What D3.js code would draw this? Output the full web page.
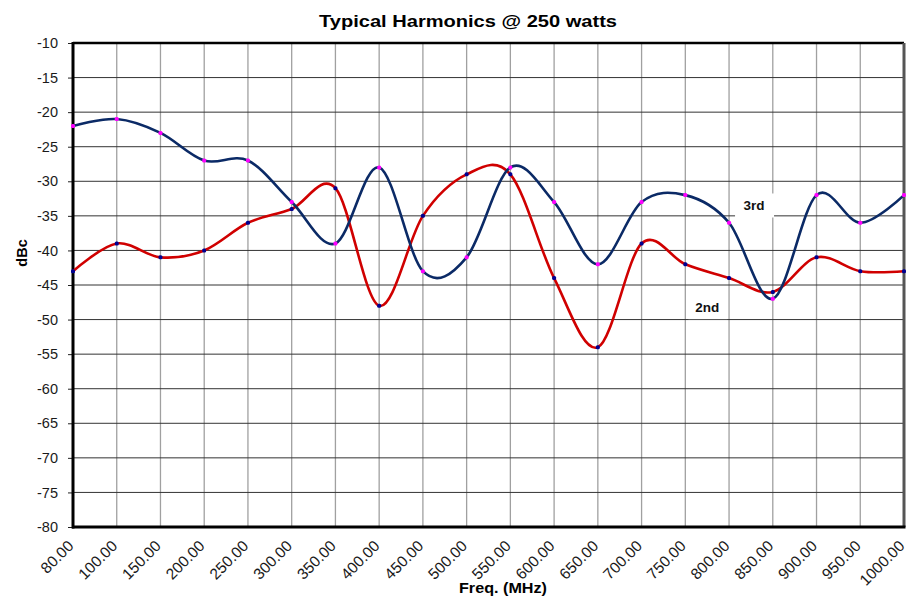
<!DOCTYPE html>
<html>
<head>
<meta charset="utf-8">
<script src="https://cdn.jsdelivr.net/npm/d3@7"></script>
<style>
  body { margin: 0; background: #fff; }
  text { font-family: "Liberation Sans", Arial, sans-serif; }
</style>
</head>
<body>
<div id="chart"></div>
<script>
// data
var freqs = ['80.00','100.00','150.00','200.00','250.00','300.00','350.00','400.00','450.00','500.00',
             '550.00','600.00','650.00','700.00','750.00','800.00','850.00','900.00','950.00','1000.00']
var third  = [-22,-21,-23,-27,-27,-33,-39,-28,-43,-41,-28,-33,-42,-33,-32,-36,-47,-32,-36,-32]
var second = [-43,-39,-41,-40,-36,-34,-31,-48,-35,-29,-29,-44,-54,-39,-42,-44,-46,-41,-43,-43]
var yTicks = d3.range(-80, -5, 5)

var W = 908, H = 597
var margin = {top: 43, right: 4, bottom: 70, left: 73}
var width  = W - margin.left - margin.right,
    height = H - margin.top - margin.bottom

var svg = d3.select('#chart')
            .append('svg')
            .attr('width', W)
            .attr('height', H)

var g = svg.append('g')
           .attr('transform', 'translate(' + margin.left + ',' + margin.top + ')')

var x = d3.scalePoint()
          .domain(freqs)
          .range([0, width])

var y = d3.scaleLinear()
          .domain([-80, -10])
          .range([height, 0])

//vertical grid
g.append('g')
 .selectAll('line')
 .data(freqs.slice(1))
 .enter().append('line')
 .attr('x1', function(d){ return x(d) })
 .attr('x2', function(d){ return x(d) })
 .attr('y1', 0)
 .attr('y2', height)
 .style('stroke', '#a0a0a0')
 .style('stroke-width', 1.3)

//horizontal grid
g.append('g')
 .selectAll('line')
 .data(yTicks.filter(function(d){ return d > -80 && d < -10 }))
 .enter().append('line')
 .attr('x1', 0)
 .attr('x2', width)
 .attr('y1', function(d){ return y(d) })
 .attr('y2', function(d){ return y(d) })
 .style('stroke', '#333')
 .style('stroke-width', 1)

//y axis (plain hyphen minus like the original)
var yAxis = g.append('g')
             .call(d3.axisLeft(y).tickValues(yTicks).tickSize(5).tickPadding(10)
                     .tickFormat(function(d){ return String(d) }))
yAxis.select('.domain').remove()
yAxis.selectAll('text')
     .style('font-size', '14.5px')
     .style('fill', '#1a1a1a')
yAxis.selectAll('line').style('stroke', '#222')

//x axis, labels turned 45 degrees
var xAxis = g.append('g')
             .attr('transform', 'translate(0,' + height + ')')
             .call(d3.axisBottom(x).tickSize(0))
xAxis.select('.domain').remove()
xAxis.selectAll('text')
     .style('font-size', '15.5px')
     .style('fill', '#1a1a1a')
     .style('text-anchor', 'end')
     .attr('y', 0)
     .attr('dy', 0)
     .attr('transform', 'translate(1,20) rotate(-45)')

//plot frame
g.append('line').attr('x1', 0).attr('x2', width).attr('y1', 0).attr('y2', 0)
 .style('stroke', '#000').style('stroke-width', 2.5)
g.append('line').attr('x1', width).attr('x2', width).attr('y1', 0).attr('y2', height)
 .style('stroke', '#555').style('stroke-width', 3)
g.append('line').attr('x1', 0).attr('x2', 0).attr('y1', -1).attr('y2', height + 1.5)
 .style('stroke', '#000').style('stroke-width', 3)
g.append('line').attr('x1', -1).attr('x2', width + 1.5).attr('y1', height).attr('y2', height)
 .style('stroke', '#000').style('stroke-width', 3)

//series
var line = d3.line()
             .x(function(d, i){ return x(freqs[i]) })
             .y(function(d){ return y(d) })
             .curve(d3.curveCardinal.tension(0))

var series = [
  {name: '2nd', values: second, color: '#d00000', marker: '#000090'},
  {name: '3rd', values: third,  color: '#0b2a66', marker: '#ff00ff'}
]

series.forEach(function(s){
  g.append('path')
   .datum(s.values)
   .attr('d', line)
   .style('fill', 'none')
   .style('stroke', s.color)
   .style('stroke-width', 2.6)
})

series.forEach(function(s){
  g.append('g')
   .selectAll('rect')
   .data(s.values)
   .enter().append('rect')
   .attr('x', function(d, i){ return x(freqs[i]) - 2 })
   .attr('y', function(d){ return y(d) - 2 })
   .attr('width', 4)
   .attr('height', 4)
   .attr('rx', 1.5)
   .style('fill', s.marker)
})

//series labels
var labels = [
  {text: '3rd', x: x('800.00') + 25, y: y(-33.5)},
  {text: '2nd', x: x('750.00') + 22, y: y(-48.2)}
]
labels.forEach(function(l){
  g.append('rect')
   .attr('x', l.x - 19)
   .attr('y', l.y - 12)
   .attr('width', 39)
   .attr('height', 24)
   .style('fill', '#fff')
  g.append('text')
   .attr('x', l.x)
   .attr('y', l.y)
   .attr('dy', '0.35em')
   .attr('text-anchor', 'middle')
   .style('font-size', '13.5px')
   .style('font-weight', 'bold')
   .style('fill', '#111')
   .text(l.text)
})

//titles
svg.append('text')
   .attr('x', 468)
   .attr('y', 27)
   .attr('text-anchor', 'middle')
   .attr('textLength', 298)
   .attr('lengthAdjust', 'spacingAndGlyphs')
   .style('font-size', '17px')
   .style('font-weight', 'bold')
   .text('Typical Harmonics @ 250 watts')

svg.append('text')
   .attr('x', 503)
   .attr('y', 593)
   .attr('text-anchor', 'middle')
   .attr('textLength', 88)
   .attr('lengthAdjust', 'spacingAndGlyphs')
   .style('font-size', '15px')
   .style('font-weight', 'bold')
   .text('Freq. (MHz)')

svg.append('text')
   .attr('transform', 'translate(27,253) rotate(-90)')
   .attr('text-anchor', 'middle')
   .style('font-size', '14.5px')
   .style('font-weight', 'bold')
   .text('dBc')
</script>
</body>
</html>
